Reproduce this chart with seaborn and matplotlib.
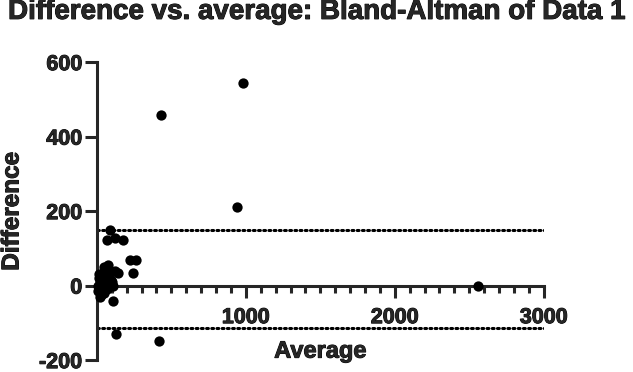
import numpy as np
import pandas as pd
import matplotlib
matplotlib.use("Agg")
import matplotlib.pyplot as plt
import matplotlib.patheffects as pe
from matplotlib.ticker import MultipleLocator
import seaborn as sns

# Bland-Altman points
average = [980, 430, 940, 2560, 416, 128, 107,
           87, 67, 121, 175, 225, 260, 242,
           74, 121, 10, 20, 30, 40, 50, 60, 15, 25, 35, 45,
           55, 70, 80, 90, 100, 8, 12, 22, 33, 48, 65, 95, 110, 140]
difference = [545, 459, 212, 0, -148, -129, -40,
              150, 123, 129, 123, 70, 70, 35,
              56, 38, 0, 10, -10, 20, -20, 5, 30, -25, 15, -5,
              25, 45, 0, 40, 10, -15, 20, -30, 5, 50, -10, 15, 0, 35]
bias_upper = 148
bias_lower = -113

df = pd.DataFrame({"Average": average, "Difference": difference})

sns.set_style("ticks")
plt.rcParams['font.family'] = ['Liberation Sans', 'DejaVu Sans']
plt.rcParams['font.weight'] = 'bold'
plt.rcParams['axes.unicode_minus'] = False

heavy = [pe.withStroke(linewidth=0.7, foreground="black")]

fig = plt.figure(figsize=(6.33, 3.72), dpi=100)
ax = fig.add_axes([0.153, 0.032, 0.706, 0.801])

sns.scatterplot(data=df, x="Average", y="Difference", ax=ax, color="black",
                s=55, edgecolor="black", linewidth=0, clip_on=False, zorder=3)

for yv in [bias_upper, bias_lower]:
    ax.plot([0, 3000], [yv, yv], color="black", lw=2.2,
            linestyle=(0, (0.6, 1.1)), dash_capstyle="round")

ax.set_xlim(0, 3000)
ax.set_ylim(-200, 600)
ax.spines['bottom'].set_position(('data', 0))
ax.spines['top'].set_visible(False)
ax.spines['right'].set_visible(False)
for sp in ['left', 'bottom']:
    ax.spines[sp].set_linewidth(2.2)

ax.xaxis.set_minor_locator(MultipleLocator(100))
ax.yaxis.set_major_locator(MultipleLocator(200))
ax.set_xticks([0, 1000, 2000, 3000])
ax.set_xticklabels(['', '1000', '2000', '3000'])
ax.tick_params(axis='y', which='major', width=2.2, length=8.5, labelsize=15.5, pad=2)
ax.tick_params(axis='x', which='major', width=2.2, length=8.5, labelsize=15.5, pad=7)
ax.tick_params(axis='x', which='minor', width=2.2, length=5)
for lab in ax.get_xticklabels() + ax.get_yticklabels():
    lab.set_fontweight('bold')
    lab.set_path_effects(heavy)

ax.set_xlabel("Average", fontsize=17, fontweight='bold', path_effects=heavy)
ax.set_ylabel("Difference", fontsize=17.5, fontweight='bold', path_effects=heavy)
ax.xaxis.label.set_va('center')
ax.xaxis.set_label_coords(0.5, 0.03)
ax.yaxis.label.set_va('center')
ax.yaxis.set_label_coords(-0.19, 0.5)

fig.text(0.5, 0.968, "Difference vs. average: Bland-Altman of Data 1",
         ha='center', va='center', fontsize=20, fontweight='bold',
         path_effects=heavy)

fig.savefig("out.png", dpi=100)
